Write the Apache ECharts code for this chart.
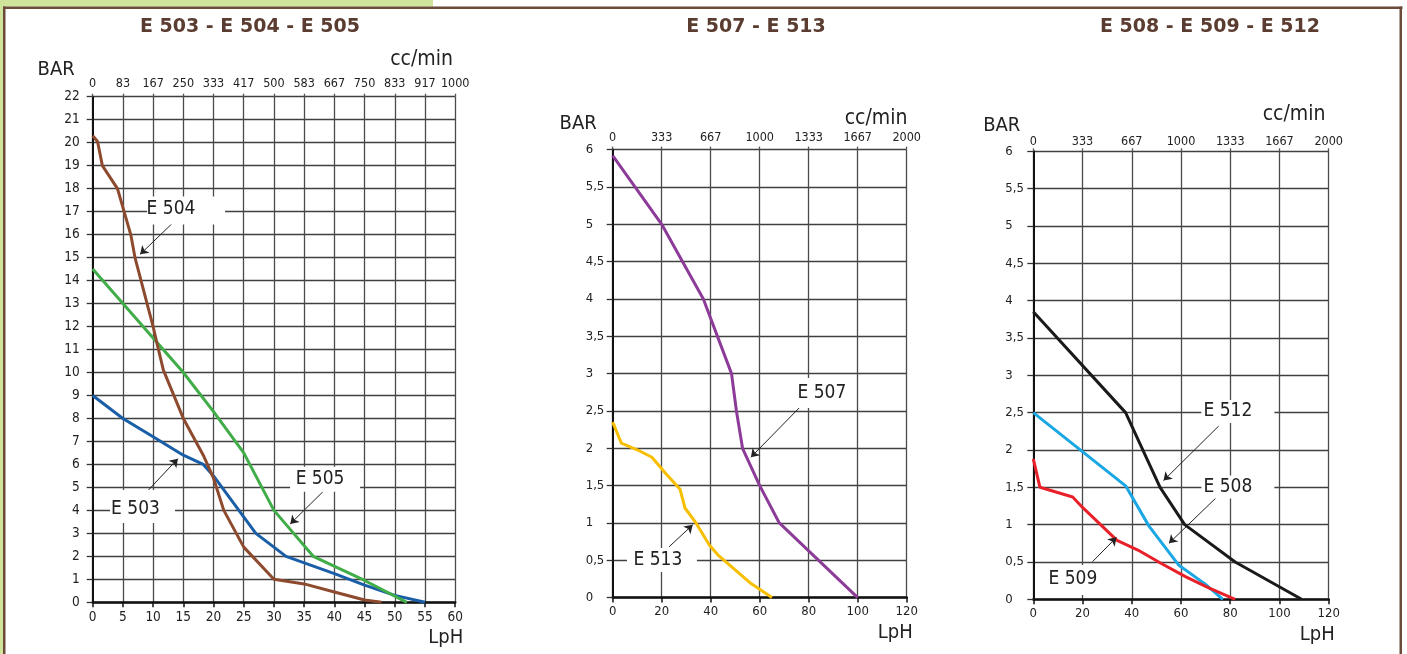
<!DOCTYPE html>
<html>
<head>
<meta charset="utf-8">
<style>
html, body { margin: 0; padding: 0; background: #fff; }
#chart { width: 1407px; height: 654px; }
</style>
<script src="https://cdn.jsdelivr.net/npm/echarts@6/dist/echarts.min.js"></script>
</head>
<body>
<div id="chart"></div>
<script>
// pump curves: [LpH, BAR]
const e503 = [[0, 9], [5, 8], [10, 7.2], [15, 6.4], [18.3, 6], [20, 5.5], [27, 3], [32, 2], [40, 1.25], [45, 0.75], [50, 0.3], [55, 0]];
const e504 = [[0, 20.3], [0.8, 20.05], [1.6, 19], [4.1, 18], [6.3, 16], [7, 15], [10, 12], [10.7, 11.2], [11.7, 10.1], [15, 8], [18.3, 6.4], [20, 5.4], [21.7, 4], [25, 2.4], [30, 1], [35, 0.8], [40, 0.45], [45, 0.1], [47.8, 0]];
const e505 = [[0, 14.5], [15, 10], [20, 8.3], [25, 6.5], [30, 4], [36.5, 2], [45, 0.95], [52, 0]];

const e507 = [[0, 5.92], [20, 5], [37, 4], [48.5, 3], [50.5, 2.5], [53, 2], [60, 1.5], [68, 1], [100, 0]];
const e513 = [[0, 2.35], [3.5, 2.07], [10, 1.98], [16, 1.88], [22, 1.65], [27.5, 1.45], [29.5, 1.2], [34, 1], [39.5, 0.7], [43, 0.57], [50, 0.37], [56, 0.2], [65, 0]];

const e512 = [[0, 3.85], [37.5, 2.5], [51.5, 1.5], [61.5, 1], [82, 0.5], [109, 0]];
const e508 = [[0, 2.5], [37.5, 1.52], [47, 0.98], [59, 0.46], [70, 0.2], [77, 0]];
const e509 = [[0, 1.88], [2.7, 1.5], [16, 1.37], [20, 1.23], [34, 0.79], [42.5, 0.66], [52, 0.48], [62, 0.3], [71.5, 0.15], [82, 0]];

// tick labels
const lphTicks1 = ['0', '5', '10', '15', '20', '25', '30', '35', '40', '45', '50', '55', '60'];
const ccTicks1 = ['0', '83', '167', '250', '333', '417', '500', '583', '667', '750', '833', '917', '1000'];
const barTicks1 = ['0', '1', '2', '3', '4', '5', '6', '7', '8', '9', '10', '11', '12', '13', '14', '15', '16', '17', '18', '19', '20', '21', '22'];
const lphTicks2 = ['0', '20', '40', '60', '80', '100', '120'];
const ccTicks2 = ['0', '333', '667', '1000', '1333', '1667', '2000'];
const barTicks2 = ['0', '0,5', '1', '1,5', '2', '2,5', '3', '3,5', '4', '4,5', '5', '5,5', '6'];

const titles = ['E 503 - E 504 - E 505', 'E 507 - E 513', 'E 508 - E 509 - E 512'];

const COND = "'DejaVu Sans Condensed', 'DejaVu Sans', sans-serif";
const BROWN = '#6b4a3a';
const GREEN = '#cfe39a';

const chart = echarts.init(document.getElementById('chart'));

function bottomAxis(gridIndex, max, interval, ticks, nameGap, fontSize) {
    return {
        type: 'value', gridIndex, position: 'bottom', min: 0, max, interval,
        name: 'LpH', nameLocation: 'end', nameGap,
        nameTextStyle: { fontFamily: COND, fontSize: 20, color: '#222', verticalAlign: 'top', padding: [25, 0, 0, 0] },
        axisLine: { show: true, onZero: false, lineStyle: { color: '#111', width: 2.5 } },
        axisTick: { show: true, length: 5, lineStyle: { color: '#111', width: 1.5 } },
        axisLabel: { margin: 8, fontFamily: COND, fontSize, color: '#222', formatter: v => ticks[Math.round(v / interval)] },
        splitLine: { show: true, lineStyle: { color: '#4a4a4a', width: 1.3 } }
    };
}

function topAxis(gridIndex, max, interval, ticks, nameGap, namePad, margin, fontSize) {
    return {
        type: 'value', gridIndex, position: 'top', min: 0, max, interval,
        name: 'cc/min', nameLocation: 'end', nameGap,
        nameTextStyle: { fontFamily: COND, fontSize: 21, color: '#222', verticalAlign: 'bottom', padding: [0, 0, namePad, 0] },
        axisLine: { show: false, onZero: false },
        axisTick: { show: true, length: 3, lineStyle: { color: '#555', width: 1.3 } },
        axisLabel: { margin, fontFamily: COND, fontSize, color: '#222', formatter: v => ticks[Math.round(v / interval)] },
        splitLine: { show: false }
    };
}

function barAxis(gridIndex, max, interval, ticks, nameGap, namePad, align, margin, fontSize) {
    return {
        type: 'value', gridIndex, min: 0, max, interval,
        name: 'BAR', nameLocation: 'end', nameGap,
        nameTextStyle: { fontFamily: COND, fontSize: 20, color: '#222', align: 'right', padding: [0, namePad, 0, 0] },
        axisLine: { show: true, onZero: false, lineStyle: { color: '#111', width: 2 } },
        axisTick: { show: true, length: 6, lineStyle: { color: '#333', width: 1.3 } },
        axisLabel: { align, margin, fontFamily: COND, fontSize, color: '#222', formatter: v => ticks[Math.round(v / interval)] },
        splitLine: { show: true, lineStyle: { color: '#404040', width: 1.3 } }
    };
}

// white label box + arrow, placed in data coordinates
function note(text, at, size, offset, from, to) {
    return {
        markPoint: {
            silent: true, symbol: 'rect', animation: false,
            itemStyle: { color: '#fff' },
            label: { show: true, position: 'inside', formatter: text, color: '#222', fontFamily: COND, fontSize: 19 },
            data: [{ coord: at, symbolSize: size, label: { offset } }]
        },
        markLine: {
            silent: true, symbol: ['none', 'arrow'], symbolSize: 8, animation: false,
            lineStyle: { color: '#222', width: 1, type: 'solid' },
            label: { show: false },
            emphasis: { disabled: true },
            data: [[{ coord: from }, { coord: to }]]
        }
    };
}

function curve(name, data, color, xi, yi, extra) {
    return Object.assign({
        name, type: 'line', data, xAxisIndex: xi, yAxisIndex: yi,
        symbol: 'none', animation: false,
        lineStyle: { color, width: 3 }, itemStyle: { color },
        emphasis: { disabled: true }
    }, extra || {});
}

const titleText = (text, x) => ({
    type: 'text', x, y: 27,
    style: { text, x: 0, y: 0, textAlign: 'center', textVerticalAlign: 'middle', align: 'center', verticalAlign: 'middle',
        font: 'bold 19px "DejaVu Sans"', fill: '#5a3d30' }
});

const option = {
    backgroundColor: '#fff',
    animation: false,
    grid: [
        { left: 92.7, top: 96.7, width: 362.5, height: 505.6, outerBoundsMode: 'none' },
        { left: 612.7, top: 149.6, width: 294, height: 448, outerBoundsMode: 'none' },
        { left: 1033.3, top: 151.3, width: 295.4, height: 448, outerBoundsMode: 'none' }
    ],
    xAxis: [
        bottomAxis(0, 60, 5, lphTicks1, -27, 13.5),
        topAxis(0, 60, 5, ccTicks1, -65, 27, 6, 12.5),
        bottomAxis(1, 120, 20, lphTicks2, -29, 13),
        topAxis(1, 120, 20, ccTicks2, -62, 21, 5, 12.5),
        bottomAxis(2, 120, 20, lphTicks2, -29, 13),
        topAxis(2, 120, 20, ccTicks2, -66, 26, 3, 12.5)
    ],
    yAxis: [
        barAxis(0, 22, 1, barTicks1, 17, 18, 'right', 13, 13.5),
        barAxis(1, 6, 0.5, barTicks2, 16, 16, 'left', 27, 13),
        barAxis(2, 6, 0.5, barTicks2, 16, 13, 'left', 28, 13)
    ],
    series: [
        curve('E 503', e503, '#1a5ea8', 0, 0, note('E 503', [8.25, 4.17], [65, 33], [-7, 3], [8.5, 4.68], [14.1, 6.25])),
        curve('E 505', e505, '#40ad49', 0, 0, note('E 505', [38.46, 5.35], [70, 25], [-5, 0], [38.1, 4.81], [32.7, 3.41])),
        curve('E 504', e504, '#8e4a2e', 0, 0, note('E 504', [15.45, 17.05], [78, 28], [-15, -1], [13.3, 16.52], [7.85, 15.14])),
        curve('E 507', e507, '#8c3b98', 2, 1, note('E 507', [85.4, 2.74], [48, 30], [0, 0], [76.7, 2.56], [56.4, 1.88])),
        curve('E 513', e513, '#f7bf00', 2, 1, note('E 513', [20.1, 0.505], [70, 24], [-4, 0], [23, 0.68], [32.65, 0.974])),
        curve('E 512', e512, '#1a1a1a', 4, 2, note('E 512', [83.1, 2.515], [73, 23], [-10, 0], [75.3, 2.32], [52.9, 1.59])),
        curve('E 508', e508, '#1aa7e3', 4, 2, note('E 508', [83.1, 1.504], [73, 23], [-10, 0], [74.9, 1.38], [55.1, 0.75])),
        curve('E 509', e509, '#e8202a', 4, 2, note('E 509', [16.5, 0.26], [52, 30], [-1, -1], [24.05, 0.504], [33.8, 0.83]))
    ],
    graphic: [
        // page frame
        { type: 'rect', shape: { x: 0, y: 0, width: 433, height: 6.5 }, style: { fill: GREEN }, silent: true },
        { type: 'rect', shape: { x: 0, y: 0, width: 3, height: 654 }, style: { fill: GREEN }, silent: true },
        { type: 'rect', shape: { x: 3, y: 6.5, width: 1399.5, height: 2.5 }, style: { fill: BROWN }, silent: true },
        { type: 'rect', shape: { x: 3, y: 6.5, width: 2.5, height: 648 }, style: { fill: BROWN }, silent: true },
        { type: 'rect', shape: { x: 1399.5, y: 6.5, width: 2.5, height: 648 }, style: { fill: BROWN }, silent: true },
        titleText(titles[0], 250),
        titleText(titles[1], 756),
        titleText(titles[2], 1210)
    ]
};

chart.setOption(option);
window.addEventListener('resize', () => chart.resize());
</script>
</body>
</html>
